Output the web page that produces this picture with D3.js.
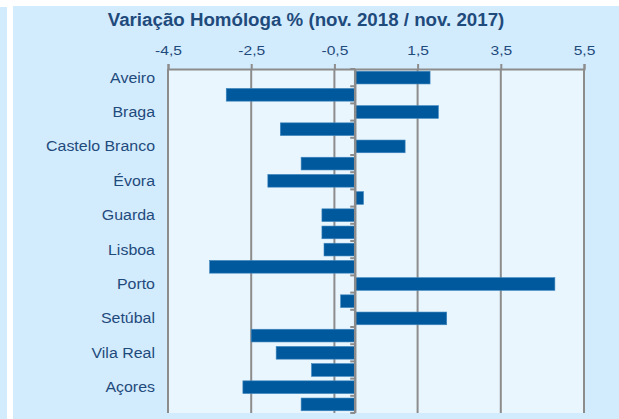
<!DOCTYPE html>
<html>
<head>
<meta charset="utf-8">
<script src="https://cdn.jsdelivr.net/npm/d3@7"></script>
<style>
  body { margin: 0; background: #fff; }
  text { font-family: "Liberation Sans", Arial, sans-serif; }
</style>
</head>
<body>
<script>
// districts, top to bottom (only every other one gets a label)
var districts = ['Aveiro', 'Beja', 'Braga', 'Bragança', 'Castelo Branco', 'Coimbra',
  'Évora', 'Faro', 'Guarda', 'Leiria', 'Lisboa', 'Portalegre', 'Porto', 'Santarém',
  'Setúbal', 'Viana do Castelo', 'Vila Real', 'Viseu', 'Açores', 'Madeira'];
var variation = [1.8, -3.1, 2.0, -1.8, 1.2, -1.3, -2.1, 0.2, -0.8, -0.8, -0.75, -3.5,
  4.8, -0.35, 2.2, -2.5, -1.9, -1.05, -2.7, -1.3];
var tickValues = [-4.5, -2.5, -0.5, 1.5, 3.5, 5.5];
var title = 'Variação Homóloga % (nov. 2018 / nov. 2017)';

var w = 619, h = 419;
// plot box (note: "top" is taken by window.top, so use plot* names)
var plotL = 168, plotR = 584, plotT = 69, plotB = 413;
var textColor = '#1f4a7c';
var gridColor = '#8c8c8c';

// the source picture is a bit stretched sideways, so text gets a scaleX
function fmt(d) {
  return d3.format('.1f')(d).replace('.', ',').replace('\u2212', '-');
}

var svg = d3.select('body').append('svg')
  .attr('width', w)
  .attr('height', h);

// panels
svg.append('rect').attr('x', 0).attr('y', 7).attr('width', 7).attr('height', h - 7).attr('fill', '#d3ecfd');
svg.append('rect').attr('x', 13).attr('y', 6).attr('width', w - 13).attr('height', h - 6).attr('fill', '#d3ecfd');
svg.append('rect').attr('x', plotL).attr('y', plotT).attr('width', plotR - plotL).attr('height', plotB - plotT).attr('fill', '#e9f6fe');

var x = d3.scaleLinear().domain([-4.5, 5.5]).range([plotL, plotR]);
var y = d3.scaleBand().domain(districts).range([plotT, plotB]).paddingInner(0.26).paddingOuter(0.13);

svg.append('text')
  .attr('transform', 'translate(306,26) scale(1.07,1)')
  .attr('text-anchor', 'middle')
  .attr('font-size', '17.5px')
  .attr('font-weight', 'bold')
  .attr('fill', textColor)
  .text(title);

// top axis with gridlines
var xAxis = svg.append('g')
  .attr('transform', 'translate(0,' + plotT + ')')
  .call(d3.axisTop(x).tickValues(tickValues).tickSize(5).tickFormat(fmt));
xAxis.select('.domain').attr('stroke', gridColor).attr('stroke-width', 2);
xAxis.selectAll('.tick line').attr('stroke', gridColor).attr('stroke-width', 2);
xAxis.selectAll('.tick text')
  .attr('fill', textColor).attr('font-size', '12px')
  .attr('y', null).attr('dy', null)
  .attr('transform', 'translate(0,-14) scale(1.3,1)');

svg.append('g').selectAll('line')
  .data(tickValues)
  .enter()
  .append('line')
    .attr('x1', function(d) { return x(d); })
    .attr('x2', function(d) { return x(d); })
    .attr('y1', plotT)
    .attr('y2', plotB)
    .attr('stroke', gridColor)
    .attr('stroke-width', 2);

// bars
svg.append('g').selectAll('rect')
  .data(variation)
  .enter()
  .append('rect')
    .attr('x', function(d) { return Math.min(x(0), x(d)); })
    .attr('y', function(d, i) { return y(districts[i]); })
    .attr('width', function(d) { return Math.abs(x(d) - x(0)); })
    .attr('height', y.bandwidth())
    .attr('fill', '#00599c')
    .attr('stroke', '#3f86bf')
    .attr('stroke-width', 0.6);

// zero axis with small ticks between the bands
var step = y.step();
var minor = d3.range(districts.length + 1).map(function(i) { return plotT + i * step; });
svg.append('g').selectAll('line')
  .data(minor)
  .enter()
  .append('line')
    .attr('x1', x(0) - 5)
    .attr('x2', x(0))
    .attr('y1', function(d) { return d; })
    .attr('y2', function(d) { return d; })
    .attr('stroke', gridColor)
    .attr('stroke-width', 2);
svg.append('line')
  .attr('x1', x(0)).attr('x2', x(0))
  .attr('y1', plotT).attr('y2', plotB)
  .attr('stroke', gridColor)
  .attr('stroke-width', 2.5);

// category labels, every other one
svg.append('g').selectAll('text')
  .data(districts.filter(function(d, i) { return i % 2 === 0; }))
  .enter()
  .append('text')
    .attr('transform', function(d) {
      return 'translate(155,' + (y(d) + y.bandwidth() / 2 + 5) + ') scale(1.1,1)';
    })
    .attr('text-anchor', 'end')
    .attr('font-size', '14.5px')
    .attr('fill', textColor)
    .text(function(d) { return d; });
</script>
</body>
</html>
